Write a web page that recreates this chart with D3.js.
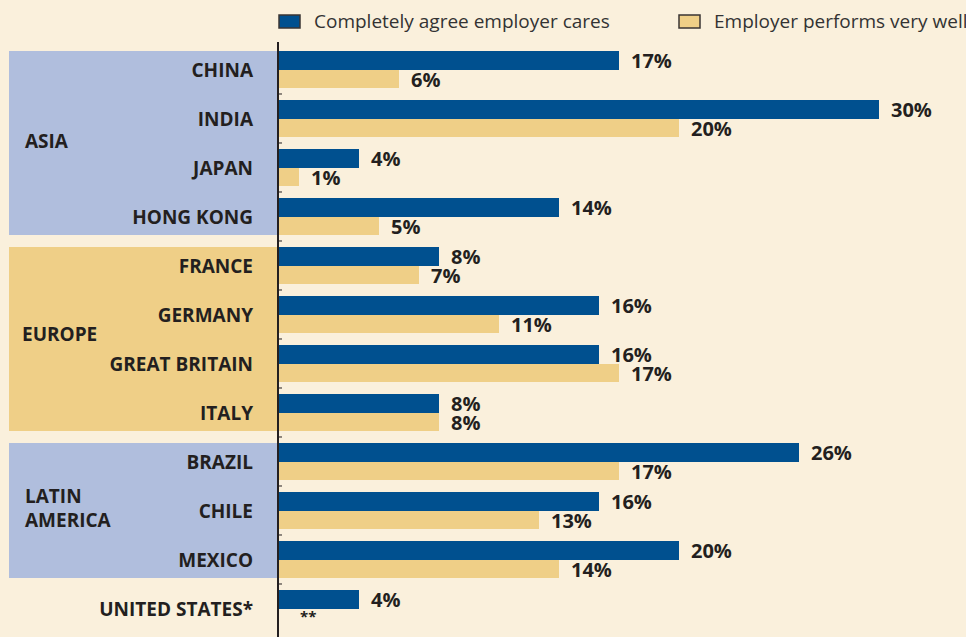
<!DOCTYPE html>
<html>
<head>
<meta charset="utf-8">
<script src="https://cdn.jsdelivr.net/npm/d3@7"></script>
<style>
  body { margin: 0; background: #faf0dc; }
  svg { display: block; font-family: "Open Sans", "Liberation Sans", sans-serif; }
</style>
</head>
<body>
<svg></svg>
<script>
const countries = ["CHINA", "INDIA", "JAPAN", "HONG KONG", "FRANCE", "GERMANY", "GREAT BRITAIN", "ITALY", "BRAZIL", "CHILE", "MEXICO", "UNITED STATES*"];
const cares = [17, 30, 4, 14, 8, 16, 16, 8, 26, 16, 20, 4];
const performs = [6, 20, 1, 5, 7, 11, 17, 8, 17, 13, 14, null];
const seriesNames = ["Completely agree employer cares", "Employer performs very well"];
const regions = [
  { name: ["ASIA"], from: "CHINA", to: "HONG KONG", color: "#b0bedd" },
  { name: ["EUROPE"], from: "FRANCE", to: "ITALY", color: "#efcf87" },
  { name: ["LATIN", "AMERICA"], from: "BRAZIL", to: "MEXICO", color: "#b0bedd" }
];

const width = 966, height = 637;
const blue = "#00508f", tan = "#efcf87", ink = "#231f20";

const svg = d3.select("svg").attr("width", width).attr("height", height);
svg.append("rect").attr("width", width).attr("height", height).attr("fill", "#faf0dc");

const x = d3.scaleLinear().domain([0, 30]).range([279, 879]);
const pad = 0.245, step = 49.0;
const y = d3.scaleBand().domain(countries)
  .range([51, 51 + step * (countries.length - pad)])
  .paddingInner(pad).paddingOuter(0).align(0);
const bw = y.bandwidth();
const blueH = 19;

// region boxes (label nudges picked by eye)
const regionShift = { ASIA: -2, EUROPE: -5, LATIN: -2 };
const regionX = { ASIA: 25, EUROPE: 22, LATIN: 25 };
regions.forEach(r => {
  const top = y(r.from), bot = y(r.to) + bw;
  svg.append("rect").attr("x", 9).attr("y", top).attr("width", 269).attr("height", bot - top).attr("fill", r.color);
  const mid = (top + bot) / 2 + regionShift[r.name[0]];
  r.name.forEach((t, i) => {
    svg.append("text").attr("x", regionX[r.name[0]])
      .attr("y", mid + (i - (r.name.length - 1) / 2) * 24)
      .attr("dy", "0.35em").attr("font-size", 19).attr("font-weight", 700).attr("fill", ink)
      .text(t);
  });
});

const rows = svg.append("g").selectAll("g").data(countries).join("g");

rows.append("rect").attr("x", x(0)).attr("y", d => y(d))
  .attr("width", (d, i) => x(cares[i]) - x(0)).attr("height", blueH).attr("fill", blue);

rows.filter((d, i) => performs[i] != null).append("rect").attr("x", x(0)).attr("y", d => y(d) + blueH)
  .attr("width", d => x(performs[countries.indexOf(d)]) - x(0)).attr("height", bw - blueH).attr("fill", tan);

rows.append("text").attr("x", 253).attr("y", d => y(d) + blueH).attr("dy", "0.35em")
  .attr("text-anchor", "end").attr("font-size", 19).attr("font-weight", 700).attr("fill", ink)
  .text(d => d);

rows.append("text").attr("x", (d, i) => x(cares[i]) + 12).attr("y", d => y(d) + blueH / 2).attr("dy", "0.35em")
  .attr("font-size", 20).attr("font-weight", 700).attr("fill", ink)
  .text((d, i) => cares[i] + "%");

rows.append("text").attr("x", (d, i) => performs[i] != null ? x(performs[i]) + 12 : x(1) + 1)
  .attr("y", d => y(d) + blueH + (bw - blueH) / 2 + 1).attr("dy", (d, i) => performs[i] != null ? "0.35em" : "0.2em")
  .attr("font-size", (d, i) => performs[i] != null ? 20 : 15).attr("font-weight", 700).attr("fill", ink)
  .text((d, i) => performs[i] != null ? performs[i] + "%" : "**");

// axis line with small ticks between rows
svg.append("line").attr("x1", 278).attr("x2", 278).attr("y1", 42).attr("y2", 637)
  .attr("stroke", ink).attr("stroke-width", 2);
svg.append("g").selectAll("line").data(countries.slice(0, -1)).join("line")
  .attr("x1", 278).attr("x2", 282)
  .attr("y1", d => y(d) + bw + (step - bw) / 2).attr("y2", d => y(d) + bw + (step - bw) / 2)
  .attr("stroke", ink).attr("stroke-width", 1);

// legend
const legX = [278, 678], legC = [blue, tan];
seriesNames.forEach((n, i) => {
  svg.append("rect").attr("x", legX[i] + 1).attr("y", 15).attr("width", 21).attr("height", 13)
    .attr("fill", legC[i]).attr("stroke", "#3a3433").attr("stroke-width", 1.5);
  svg.append("text").attr("x", legX[i] + 36).attr("y", 21).attr("dy", "0.35em")
    .attr("font-size", 19).attr("fill", "#333").text(n);
});
</script>
</body>
</html>
